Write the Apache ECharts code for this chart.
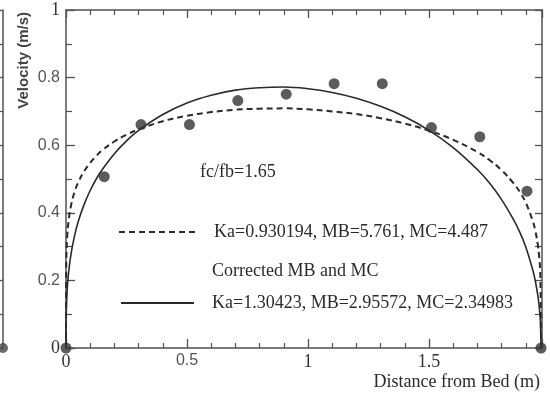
<!DOCTYPE html>
<html><head><meta charset="utf-8">
<script src="https://cdn.jsdelivr.net/npm/echarts@6/dist/echarts.min.js"></script>
<style>html,body{margin:0;padding:0;background:#fff}#c{width:550px;height:394px}</style>
</head><body><div id="c"></div>
<script>
// ---- data ----
const xTickLabels = ['0', '0.5', '1', '1.5'];
const yTickLabels = ['0', '0.2', '0.4', '0.6', '0.8', '1'];
const measX = [0, 0.158, 0.31, 0.51, 0.71, 0.91, 1.108, 1.307, 1.51, 1.71, 1.905, 1.963];
const measV = [0, 0.507, 0.661, 0.661, 0.732, 0.751, 0.782, 0.782, 0.652, 0.625, 0.464, 0];
const curveX = [0, 0.001, 0.005, 0.01, 0.02, 0.035, 0.05, 0.075, 0.1, 0.125, 0.15, 0.2, 0.25, 0.3, 0.4, 0.5, 0.6, 0.7, 0.8, 0.9, 1.0, 1.1, 1.2, 1.3, 1.4, 1.5, 1.6, 1.7, 1.75, 1.8, 1.85, 1.875, 1.9, 1.93, 1.94, 1.95, 1.955, 1.96, 1.963];
const dashedV = [0, 0.249, 0.330, 0.372, 0.419, 0.461, 0.489, 0.523, 0.548, 0.568, 0.585, 0.611, 0.631, 0.647, 0.671, 0.687, 0.698, 0.705, 0.708, 0.709, 0.706, 0.700, 0.692, 0.680, 0.664, 0.643, 0.616, 0.580, 0.556, 0.526, 0.487, 0.462, 0.430, 0.373, 0.345, 0.304, 0.273, 0.219, 0];
const solidV = [0, 0.100, 0.173, 0.218, 0.275, 0.331, 0.373, 0.425, 0.466, 0.500, 0.528, 0.575, 0.613, 0.644, 0.691, 0.725, 0.748, 0.763, 0.770, 0.772, 0.767, 0.756, 0.739, 0.715, 0.684, 0.644, 0.593, 0.528, 0.488, 0.439, 0.379, 0.343, 0.299, 0.228, 0.196, 0.154, 0.125, 0.083, 0];
const neighborX = [1];
const neighborV = [0];
const dashedName = 'Ka=0.930194, MB=5.761, MC=4.487';
const solidName = 'Ka=1.30423, MB=2.95572, MC=2.34983';
const annotationText = 'fc/fb=1.65';
const correctedText = 'Corrected MB and MC';
const xName = 'Distance from Bed (m)';
const yName = 'Velocity (m/s)';

const zip = (a, b) => a.map((v, i) => [v, b[i]]);
const SERIF = '"Liberation Serif", "Times New Roman", serif';
const SANS = '"Liberation Sans", Arial, sans-serif';
const INK = '#2a2a2a';
const AX = '#505050';

const chart = echarts.init(document.getElementById('c'), null, {renderer: 'canvas'});

function xFmt(v) {
  const s = xTickLabels.find(t => Math.abs(parseFloat(t) - v) < 1e-6);
  if (s === undefined) return '';
  return s === '0.5' ? '{s|' + s + '}' : '{r|' + s + '}';
}
function yFmt(v) {
  const s = yTickLabels.find(t => Math.abs(parseFloat(t) - v) < 1e-6);
  if (s === undefined) return '';
  return (s === '0' || s === '1') ? '{r|' + s + '}' : '{s|' + s + '}';
}
const rich = {
  s: {fontFamily: SANS, fontSize: 16, color: '#555'},
  r: {fontFamily: SERIF, fontSize: 18, color: '#333'}
};

const axLine = {show: true, onZero: false, lineStyle: {color: AX, width: 1.5}};
const tk = (len) => ({show: true, inside: true, length: len, lineStyle: {color: AX, width: 1.3}});
const mtk = (n, len) => ({show: true, splitNumber: n, length: len, lineStyle: {color: AX, width: 1.2}});

chart.setOption({
  animation: false,
  backgroundColor: '#fff',
  grid: [
    {left: 66, right: 8, top: 10, bottom: 46},
    {left: 0, width: 3, top: 10, bottom: 46}
  ],
  xAxis: [
    {gridIndex: 0, type: 'value', position: 'bottom', min: 0, max: 1.967, interval: 0.5,
     axisLine: axLine, splitLine: {show: false}, axisTick: tk(9), minorTick: mtk(5, 5),
     axisLabel: {show: true, margin: 5, showMaxLabel: false, formatter: xFmt, rich: rich}},
    {gridIndex: 0, type: 'value', position: 'top', min: 0, max: 1.967, interval: 0.5,
     axisLine: axLine, splitLine: {show: false}, axisTick: tk(8), minorTick: mtk(5, 5),
     axisLabel: {show: false}},
    {gridIndex: 1, type: 'value', min: 0, max: 1, show: false}
  ],
  yAxis: [
    {gridIndex: 0, type: 'value', position: 'left', min: 0, max: 1, interval: 0.2,
     axisLine: axLine, splitLine: {show: false}, axisTick: tk(9), minorTick: mtk(2, 6),
     axisLabel: {show: true, margin: 6, formatter: yFmt, rich: rich}},
    {gridIndex: 0, type: 'value', position: 'right', min: 0, max: 1, interval: 0.2,
     axisLine: axLine, splitLine: {show: false}, axisTick: tk(7), minorTick: mtk(2, 7),
     axisLabel: {show: false}},
    {gridIndex: 1, type: 'value', position: 'right', min: 0, max: 1, interval: 0.2,
     axisLine: axLine, splitLine: {show: false}, axisTick: tk(4), minorTick: mtk(2, 4),
     axisLabel: {show: false}}
  ],
  legend: [
    {data: [dashedName], left: 118, top: 223, padding: 0, itemWidth: 79, itemHeight: 14,
     selectedMode: false, itemStyle: {opacity: 0},
     textStyle: {fontFamily: SERIF, fontSize: 18, color: INK, padding: [0, 0, 0, 11]}},
    {data: [solidName], left: 120, top: 294, padding: 0, itemWidth: 73, itemHeight: 14,
     selectedMode: false, itemStyle: {opacity: 0},
     textStyle: {fontFamily: SERIF, fontSize: 18, color: INK, padding: [0, 0, 0, 13]}}
  ],
  graphic: [
    {type: 'text', left: 200, top: 163, style: {text: annotationText, font: '18px ' + SERIF, fill: INK}},
    {type: 'text', left: 212, top: 262, style: {text: correctedText, font: '18px ' + SERIF, fill: INK}},
    {type: 'text', right: 10, top: 373, style: {text: xName, font: '18px ' + SERIF, fill: INK}},
    {type: 'text', left: 16, top: 12, rotation: Math.PI / 2,
     style: {text: yName, font: 'bold 15px ' + SANS, fill: '#444'}}
  ],
  series: [
    {name: dashedName, type: 'line', xAxisIndex: 0, yAxisIndex: 0, data: zip(curveX, dashedV),
     showSymbol: false, symbol: 'none', smooth: 0.4,
     lineStyle: {color: INK, width: 2, type: [6, 4]}, itemStyle: {color: INK}},
    {name: solidName, type: 'line', xAxisIndex: 0, yAxisIndex: 0, data: zip(curveX, solidV),
     showSymbol: false, symbol: 'none', smooth: 0.4,
     lineStyle: {color: INK, width: 1.6}, itemStyle: {color: INK}},
    {name: 'Measured', type: 'scatter', xAxisIndex: 0, yAxisIndex: 0, data: zip(measX, measV),
     symbolSize: 11, clip: false, itemStyle: {color: '#333'}, z: 5},
    {name: 'neighbor', type: 'scatter', xAxisIndex: 2, yAxisIndex: 2, data: zip(neighborX, neighborV),
     symbolSize: 10, clip: false, itemStyle: {color: '#444'}}
  ]
});
</script></body></html>
